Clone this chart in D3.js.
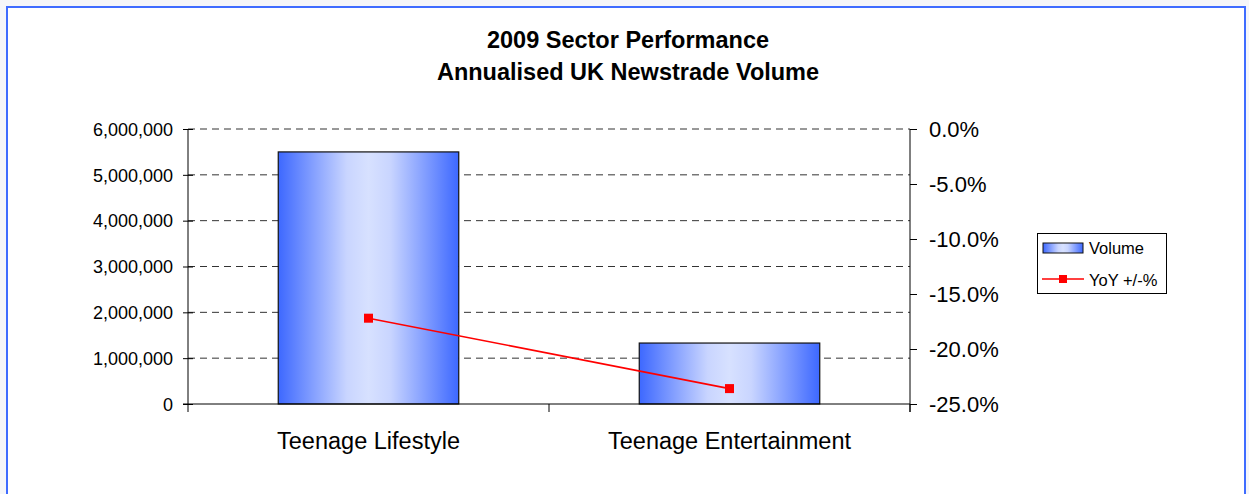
<!DOCTYPE html>
<html><head><meta charset="utf-8">
<script src="https://cdn.jsdelivr.net/npm/d3@7"></script>
<style>
html,body{margin:0;padding:0;background:#f5f6f9;}
svg{display:block;font-family:"Liberation Sans",Arial,sans-serif;}
</style></head>
<body><svg id="c" width="1249" height="494"></svg>
<script>
const categories = ["Teenage Lifestyle", "Teenage Entertainment"];
const volume = [5500000, 1330000];
const yoy = [-0.172, -0.236];
const leftTicks = [0, 1000000, 2000000, 3000000, 4000000, 5000000, 6000000];
const rightTicks = [0, -0.05, -0.10, -0.15, -0.20, -0.25];
const titleLines = ["2009 Sector Performance", "Annualised UK Newstrade Volume"];
const legendLabels = ["Volume", "YoY +/-%"];

const svg = d3.select("#c");
// chart area frame
svg.append("rect").attr("x",7).attr("y",7).attr("width",1238).attr("height",500)
  .attr("fill","#fff").attr("stroke","#3f6cff").attr("stroke-width",2);

const defs = svg.append("defs");
const grad = defs.append("linearGradient").attr("id","bg").attr("x1","0%").attr("x2","100%").attr("y1","0%").attr("y2","0%");
[[0,"#3d68ff"],[0.38,"#c9d5ff"],[0.5,"#d7e1ff"],[0.62,"#c9d5ff"],[1,"#3d68ff"]].forEach(([o,c])=>
  grad.append("stop").attr("offset",o*100+"%").attr("stop-color",c));

const L=188, R=910, T=129, B=404;
const x = d3.scaleBand().domain(categories).range([L,R]).paddingInner(0).paddingOuter(0);
const yL = d3.scaleLinear().domain([0,6000000]).range([B,T]);
const yR = d3.scaleLinear().domain([-0.25,0]).range([B,T]);

// title
svg.append("g").selectAll("text").data(titleLines).join("text")
  .attr("x",628).attr("y",(d,i)=>48+i*32).attr("text-anchor","middle")
  .attr("font-weight","bold").attr("font-size",23.5).attr("fill","#000").text(d=>d);

// gridlines
svg.append("g").selectAll("line").data(leftTicks.filter(t=>t>0)).join("line")
  .attr("x1",L).attr("x2",R).attr("y1",d=>yL(d)).attr("y2",d=>yL(d))
  .attr("stroke","#333").attr("stroke-width",1).attr("stroke-dasharray","7,5");

// bars
const bw = x.bandwidth()/2;
svg.append("g").selectAll("rect").data(categories).join("rect")
  .attr("x",d=>x(d)+x.bandwidth()/2-bw/2).attr("width",bw)
  .attr("y",(d,i)=>yL(volume[i])).attr("height",(d,i)=>B-yL(volume[i]))
  .attr("fill","url(#bg)").attr("stroke","#111").attr("stroke-width",1.2);

// left axis
const gl = svg.append("g").attr("transform",`translate(${L},0)`)
  .call(d3.axisLeft(yL).tickValues(leftTicks).tickFormat(d3.format(",")).tickSize(5).tickPadding(10));
gl.selectAll(".tick line").attr("x1",-5).attr("x2",5);
gl.select(".domain").attr("d",`M0,${T}V${B}`);
gl.selectAll("text").attr("font-size",18).attr("font-family","Liberation Sans, Arial").attr("fill","#000").attr("dy","0.35em");
gl.selectAll("line,path").attr("stroke","#000");

// right axis
const gr = svg.append("g").attr("transform",`translate(${R},0)`)
  .call(d3.axisRight(yR).tickValues(rightTicks).tickFormat(d3.format(".1%")).tickSize(7).tickPadding(12));
gr.select(".domain").attr("d",`M0,${T}V${B+8}`);
gr.selectAll("text").attr("font-size",22).attr("font-family","Liberation Sans, Arial").attr("fill","#000").attr("dy","0.35em")
  .text(d=>d3.format(".1%")(d).replace("−","-"));
gr.selectAll("line,path").attr("stroke","#000");

// bottom axis
const gb = svg.append("g").attr("transform",`translate(0,${B})`);
gb.append("line").attr("x1",L-5).attr("x2",R).attr("y1",0).attr("y2",0).attr("stroke","#000");
gb.selectAll("line.tk").data([L, x(categories[1]), R]).join("line").attr("class","tk")
  .attr("x1",d=>d).attr("x2",d=>d).attr("y1",0).attr("y2",8).attr("stroke","#000");
gb.selectAll("text").data(categories).join("text")
  .attr("x",d=>x(d)+x.bandwidth()/2).attr("y",45).attr("text-anchor","middle")
  .attr("font-size",23.5).attr("fill","#000").text(d=>d);

// line series
const pts = categories.map((c,i)=>[x(c)+x.bandwidth()/2, yR(yoy[i])]);
svg.append("path").attr("d",d3.line()(pts)).attr("fill","none").attr("stroke","#ff0000").attr("stroke-width",1.6);
svg.append("g").selectAll("rect").data(pts).join("rect")
  .attr("x",d=>d[0]-4.5).attr("y",d=>d[1]-4.5).attr("width",9).attr("height",9).attr("fill","#ff0000");

// legend
const lg = svg.append("g");
lg.append("rect").attr("x",1037.5).attr("y",233.5).attr("width",129).attr("height",60)
  .attr("fill","#fff").attr("stroke","#000").attr("stroke-width",1);
lg.append("rect").attr("x",1043).attr("y",243).attr("width",40).attr("height",10)
  .attr("fill","url(#bg)").attr("stroke","#111").attr("stroke-width",1);
lg.append("line").attr("x1",1042).attr("x2",1084).attr("y1",279).attr("y2",279).attr("stroke","#ff0000").attr("stroke-width",1.6);
lg.append("rect").attr("x",1059).attr("y",275).attr("width",8).attr("height",8).attr("fill","#ff0000");
lg.selectAll("text").data(legendLabels).join("text")
  .attr("x",1089).attr("y",(d,i)=>254+i*32).attr("font-size",16.5).attr("fill","#000").text(d=>d);
</script></body></html>
